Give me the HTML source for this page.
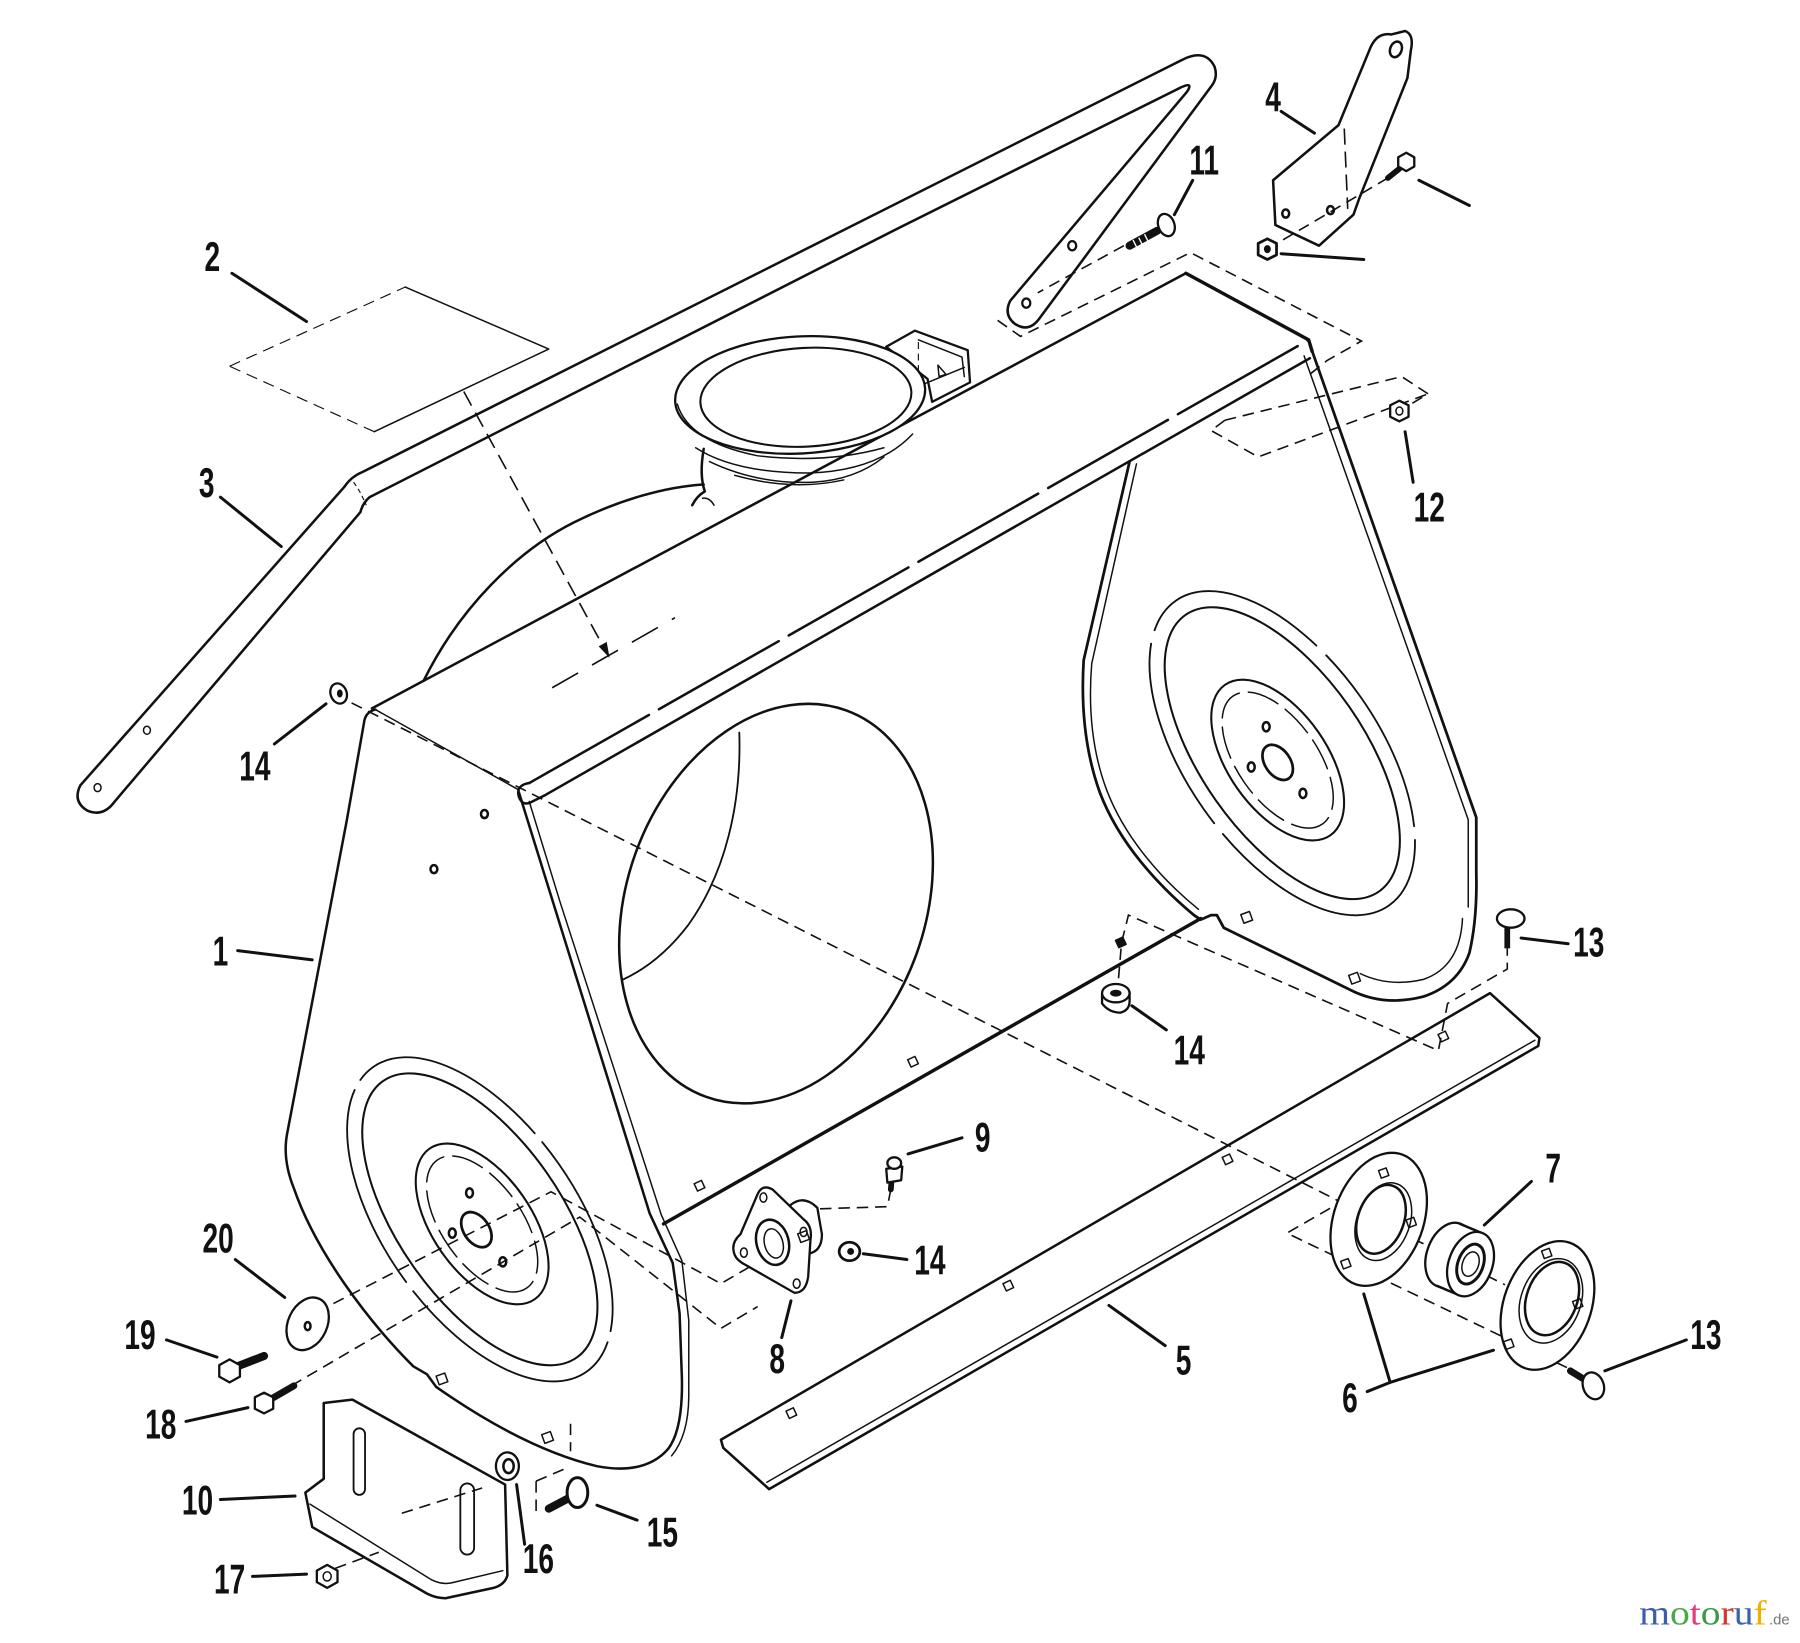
<!DOCTYPE html>
<html>
<head>
<meta charset="utf-8">
<style>
html,body{margin:0;padding:0;background:#fff;}
svg{display:block;}
.l{fill:none;stroke:#111;stroke-width:2.2;stroke-linecap:round;stroke-linejoin:round;}
.t{fill:none;stroke:#111;stroke-width:1.3;stroke-linecap:round;stroke-linejoin:round;}
.k{fill:none;stroke:#111;stroke-width:3;stroke-linecap:round;stroke-linejoin:round;}
.d{fill:none;stroke:#111;stroke-width:1.4;stroke-dasharray:10 6;}
.w{fill:#fff;stroke:#111;stroke-width:2;stroke-linejoin:round;}
.ld{fill:none;stroke:#111;stroke-width:2.6;stroke-linecap:round;}
.lab{font-family:"Liberation Sans",sans-serif;font-weight:bold;font-size:36px;fill:#111;}
</style>
</head>
<body>
<svg width="1800" height="1643" viewBox="0 0 1568 1431" preserveAspectRatio="none" xmlns="http://www.w3.org/2000/svg">
<rect x="0" y="0" width="1568" height="1431" fill="#fff"/>

<!-- Decal 2 -->
<path class="d" d="M200,319 L353,250" style="stroke-width:1"/>
<path class="t" d="M353,250 L478,304 L326,376"/>
<path class="d" d="M326,376 L200,319" style="stroke-width:1"/>
<path class="d" d="M404,341 L526,564" style="stroke-dasharray:14 7"/>
<polygon points="531,573 521.5,563 528.5,559" fill="#111"/>
<path class="d" d="M481,599 L588,538" style="stroke-dasharray:26 14"/>

<!-- Handle 3 -->
<path class="l" d="M70,684 L300,424 Q306,415 316,411 L1030,52 Q1050,42 1058,58 Q1061,67 1056,74 L905,278 Q896,290 884,282 Q874,274 880,262 L1034,80 Q1040,71 1029,76 L784,198 L322,433 Q316,438 314,446 L100,698 Q90,712 76,706 Q63,698 70,684 Z"/>
<path class="d" d="M308,420 Q314,428 319,440" style="stroke-dasharray:4 3;stroke-width:1"/>
<ellipse cx="85" cy="686" rx="3" ry="3.5" class="t"/>
<ellipse cx="128" cy="636" rx="3" ry="3.5" class="t"/>
<ellipse cx="934" cy="214" rx="3.5" ry="4" class="t" style="stroke-width:2"/>
<ellipse cx="894" cy="264" rx="3.5" ry="4" class="t" style="stroke-width:2"/>

<!-- Back shroud arc & back edge of top -->
<path class="l" d="M369,593 C400,530 450,480 500,455 C540,435 580,424 613,422"/>
<path class="l" d="M324,617 L1033,238"/>

<!-- Chute box -->
<path class="w" d="M772,302 L797,288 L843,305 L845,333 L812,350 L808,330 Z"/>
<path class="t" d="M800,296 L838,311 L840,328"/>
<path class="d" d="M800,298 L800,332" style="stroke-width:1;stroke-dasharray:6 4"/>
<path class="t" d="M806,334 L840,320"/>
<path class="t" d="M817,318 L818,328 L824,326 Z"/>

<!-- Chute neck -->
<path class="l" d="M613,391 Q609,414 614,428 Q607,432 603,440"/>
<path class="t" d="M612,434 Q618,433 622,440"/>
<path class="t" d="M606,390 Q640,412 705,412 Q765,410 795,378"/>
<path class="t" d="M618,402 Q660,422 708,420 Q745,418 770,398"/>
<path class="t" d="M640,414 Q690,428 735,418"/>
<!-- Chute ring -->
<ellipse cx="697" cy="344" rx="109" ry="51" transform="rotate(-3 697 344)" class="w"/>
<ellipse cx="702" cy="346" rx="92" ry="43" transform="rotate(-3 702 346)" class="l" style="stroke-width:1.8"/>
<path class="t" d="M590,352 Q600,385 660,397 Q720,404 770,390"/>

<!-- Top panel front edges -->
<path class="l" d="M461,682 L1140,296" style="stroke-dasharray:120 10"/>
<path class="l" d="M474,693 L1141,312"/>
<path class="k" d="M1033,238 L1140,296 L1143,306"/>
<path class="l" d="M474,693 L462,699 Q455,702 452,694 Q449,684 461,682"/>

<!-- Left side panel -->
<path class="l" d="M327,618 Q318,620 317,630 L302,715 L250,988 Q246,1010 256,1035 C275,1090 320,1150 360,1190 L372,1197 L380,1208 C420,1236 470,1265 520,1277 Q562,1285 582,1262 Q595,1245 594,1200 L592,1144 L586,1100 L566,1057 L452,690"/>
<path class="t" d="M327,618 L452,688"/>
<path class="t" d="M461,698 L488,786 L576,1058 L594,1098 L600,1150 L600,1215 Q600,1250 585,1268"/>
<ellipse cx="422" cy="709" rx="3" ry="3.5" class="l"/>
<ellipse cx="378" cy="757" rx="3" ry="3.5" class="l"/>
<rect x="381" y="1197" width="8" height="8" class="t" transform="rotate(-20 385 1201)"/>
<rect x="473" y="1248" width="8" height="8" class="t" transform="rotate(-20 477 1252)"/>

<!-- Left disc -->
<ellipse cx="418" cy="1062" rx="162" ry="84" transform="rotate(55 418 1062)" class="t" style="stroke-width:1.6;stroke-dasharray:180 10"/>
<ellipse cx="418" cy="1062" rx="147" ry="71" transform="rotate(55 418 1062)" class="l" style="stroke-width:1.8"/>
<ellipse cx="420" cy="1066" rx="80" ry="43" transform="rotate(55 420 1066)" class="l" style="stroke-width:1.8"/>
<ellipse cx="420" cy="1066" rx="68" ry="35" transform="rotate(55 420 1066)" class="t" style="stroke-dasharray:28 8"/>
<ellipse cx="415" cy="1071" rx="17" ry="11" transform="rotate(55 415 1071)" class="l" style="stroke-width:2.4"/>
<ellipse cx="409" cy="1039" rx="3" ry="4" class="l"/>
<ellipse cx="394" cy="1074" rx="3" ry="4" class="l"/>
<ellipse cx="438" cy="1099" rx="3" ry="4" class="l"/>

<!-- Big hole -->
<ellipse cx="676" cy="787" rx="179" ry="130" transform="rotate(-70 676 787)" class="l"/>
<path class="l" d="M644,638 C646,700 632,760 600,805 Q575,838 543,853" style="stroke-width:1.6"/>

<!-- Front bottom edge -->
<path class="k" d="M578,1066 L1046,800"/>
<rect x="606" y="1029" width="7" height="7" class="t" transform="rotate(-25 610 1033)"/>
<rect x="792" y="921" width="7" height="7" class="t" transform="rotate(-25 796 925)"/>
<rect x="973" y="817" width="7" height="7" class="t" transform="rotate(-25 977 821)" style="fill:#111"/>

<!-- Right side panel -->
<path class="k" d="M984,402 L944,575 Q940,640 958,690 C975,735 1010,772 1040,797 L1046,801 L1055,797 L1060,797 L1066,808 L1176,862 Q1205,877 1240,868 Q1270,858 1280,830 Q1287,800 1286,760 L1286,712 L1141,300" style="stroke-width:2.4"/>
<path class="t" d="M990,404 L951,578 Q946,640 964,688 C980,730 1012,766 1044,792"/>
<path class="t" d="M1136,310 L1279,714 L1279,790"/>
<path class="t" d="M1274,800 Q1272,842 1240,853 Q1210,860 1185,848"/>
<rect x="1082" y="795" width="8" height="8" class="t" transform="rotate(-20 1086 799)"/>
<rect x="1176" y="848" width="8" height="8" class="t" transform="rotate(-20 1180 852)"/>

<!-- Right disc -->
<ellipse cx="1117" cy="656" rx="162" ry="84" transform="rotate(55 1117 656)" class="t" style="stroke-width:1.6;stroke-dasharray:170 12"/>
<ellipse cx="1117" cy="656" rx="147" ry="71" transform="rotate(55 1117 656)" class="l" style="stroke-width:1.8"/>
<ellipse cx="1113" cy="662" rx="80" ry="43" transform="rotate(55 1113 662)" class="l" style="stroke-width:1.8"/>
<ellipse cx="1113" cy="662" rx="68" ry="35" transform="rotate(55 1113 662)" class="t" style="stroke-dasharray:28 8"/>
<ellipse cx="1113" cy="664" rx="17" ry="11" transform="rotate(55 1113 664)" class="l" style="stroke-width:2.4"/>
<ellipse cx="1103" cy="633" rx="3" ry="4" class="l"/>
<ellipse cx="1090" cy="668" rx="3" ry="4" class="l"/>
<ellipse cx="1135" cy="691" rx="3" ry="4" class="l"/>

<!-- Blade 5 -->
<path class="l" d="M628,1254 L1298,865 L1341,904 L1340,911 L670,1297 L630,1261 Z"/>
<path class="t" d="M668,1291 L1337,906"/>
<rect x="686" y="1227" width="7" height="7" class="t" transform="rotate(-25 690 1231)"/>
<rect x="875" y="1116" width="7" height="7" class="t" transform="rotate(-25 879 1120)"/>
<rect x="1066" y="1006" width="7" height="7" class="t" transform="rotate(-25 1070 1010)"/>
<rect x="1254" y="899" width="7" height="7" class="t" transform="rotate(-25 1258 903)"/>

<!-- Long dashed lines -->
<path class="d" d="M292,605 L1168,1047 L1121,1074 L1371,1194"/>
<path class="d" d="M973,868 L977,821 L983,797 L1253,915 L1261,874 L1313,844 L1313,826"/>
<path class="d" d="M262,1150 L480,1038 L628,1118 L652,1104"/>
<path class="d" d="M240,1215 L505,1060 L628,1157 L660,1138"/>
<path class="d" d="M776,1036 L773,1051 L708,1053 L700,1062"/>
<path class="d" d="M1231,1079 L1248,1087 M1295,1111 L1311,1119"/>
<path class="d" d="M497,1240 L497,1264 M467,1290 L467,1322 M467,1290 L495,1278"/>
<path class="d" d="M292,1366 L330,1352 M350,1318 L420,1296"/>

<!-- Top right dashed -->
<path class="d" d="M869,279 L889,293 L1037,220 L1186,297 L1156,314 L1141,326"/>
<path class="d" d="M979,214 L904,255"/>
<path class="d" d="M1067,366 L1221,328 L1244,343 L1229,352"/>
<path class="d" d="M1067,366 L1055,375 L1096,398 L1244,343"/>
<path class="d" d="M1209,155 L1109,214"/>
<path class="d" d="M1171,112 L1174,182" style="stroke-dasharray:14 6"/>

<!-- Bracket 4 -->
<path class="l" d="M1194,41 Q1200,28 1212,30 L1224,27 Q1232,30 1229,44 L1226,68 L1184,173 L1179,187 L1149,214 L1111,196 L1109,157 L1166,109 Z"/>
<ellipse cx="1216" cy="43" rx="5" ry="7" class="l" transform="rotate(20 1216 43)"/>
<ellipse cx="1120" cy="186" rx="3" ry="3.5" class="l"/>
<ellipse cx="1159" cy="183" rx="3" ry="3.5" class="l"/>
<!-- bolt right of 4 -->
<path d="M1209,155 L1219,147" stroke="#111" stroke-width="5" stroke-linecap="round"/>
<polygon points="1225,133 1232,137 1232,145 1225,149 1218,145 1218,137" class="w"/>
<!-- nut by 4 -->
<polygon points="1104,208 1112,212 1112,222 1104,226 1096,222 1096,212" class="w" style="stroke-width:2.4"/>
<ellipse cx="1104" cy="217" rx="3" ry="3.5" fill="#111"/>

<!-- Bolt 11 -->
<path d="M984,214 L1008,201" stroke="#111" stroke-width="7" stroke-linecap="round"/>
<path d="M987,209 L991,217 M992,207 L996,215 M997,204 L1001,212" stroke="#fff" stroke-width="1.2"/>
<ellipse cx="1016" cy="196" rx="7" ry="10" class="w" transform="rotate(-20 1016 196)"/>
<!-- Nut 12 -->
<polygon points="1219,349 1227,353 1227,363 1219,367 1211,363 1211,353" class="w"/>
<ellipse cx="1219" cy="358" rx="3" ry="3.5" class="t"/>

<!-- Nut 14 left -->
<ellipse cx="295" cy="604" rx="7" ry="9" class="w" transform="rotate(-20 295 604)"/>
<ellipse cx="296" cy="604" rx="2.5" ry="3.5" fill="#111"/>

<!-- Bearing 8 -->
<path class="w" d="M688,1050 Q700,1040 712,1052 L716,1075 Q716,1090 704,1092 Z"/>
<path class="w" d="M640,1093 Q636,1083 645,1075 L660,1040 Q664,1031 673,1036 L700,1062 Q708,1068 706,1080 L704,1112 Q702,1126 692,1126 L650,1102 Q642,1098 640,1093 Z"/>
<ellipse cx="648" cy="1091" rx="3" ry="4" class="t"/>
<ellipse cx="665" cy="1043" rx="3" ry="4" class="t"/>
<ellipse cx="700" cy="1073" rx="3" ry="4" class="t"/>
<ellipse cx="694" cy="1118" rx="3" ry="4" class="t"/>
<ellipse cx="673" cy="1082" rx="14" ry="20" class="l" transform="rotate(-15 673 1082)"/>
<ellipse cx="674" cy="1083" rx="8" ry="13" class="t" transform="rotate(-15 674 1083)"/>
<rect x="696" y="1073" width="8" height="8" class="t" transform="rotate(-20 700 1077)"/>
<!-- Grease fitting 9 -->
<path d="M776,1036 L777,1024" stroke="#111" stroke-width="5" stroke-linecap="round"/>
<path class="w" d="M772,1018 L786,1016 L785,1028 L773,1030 Z"/>
<ellipse cx="779" cy="1013" rx="6" ry="5" class="w"/>
<!-- Nut 14 by 8 -->
<ellipse cx="740" cy="1090" rx="9" ry="8" class="w" style="stroke-width:2.4"/>
<ellipse cx="741" cy="1090" rx="3" ry="3" fill="#111"/>

<!-- Nut 14 middle -->
<path class="w" d="M960,866 L960,874 Q966,882 976,882 Q984,880 984,872 L984,864 Z"/>
<ellipse cx="972" cy="865" rx="12" ry="8" class="w"/>
<ellipse cx="972" cy="865" rx="5" ry="3" fill="#111"/>

<!-- Bolt 13 upper -->
<path d="M1313,808 L1313,826" stroke="#111" stroke-width="5"/>
<ellipse cx="1316" cy="800" rx="12" ry="8" class="w"/>

<!-- Flange 6a -->
<ellipse cx="1201" cy="1062" rx="60" ry="39" transform="rotate(-70 1201 1062)" class="w"/>
<ellipse cx="1205" cy="1064" rx="35" ry="23" transform="rotate(-70 1205 1064)" class="t"/>
<ellipse cx="1203" cy="1062" rx="31" ry="20" transform="rotate(-70 1203 1062)" class="l"/>
<rect x="1202" y="1018" width="7" height="7" class="t" transform="rotate(-20 1206 1022)"/>
<rect x="1226" y="1061" width="7" height="7" class="t" transform="rotate(-20 1230 1065)"/>
<rect x="1169" y="1097" width="7" height="7" class="t" transform="rotate(-20 1173 1101)"/>
<!-- Bearing 7 -->
<ellipse cx="1262" cy="1093" rx="29" ry="19" transform="rotate(-70 1262 1093)" class="w"/>
<polygon points="1272,1066 1291,1074 1271,1128 1252,1120" fill="#fff"/>
<path class="l" d="M1272,1066 L1291,1074 M1252,1120 L1271,1128"/>
<ellipse cx="1281" cy="1101" rx="29" ry="19" transform="rotate(-70 1281 1101)" class="w"/>
<ellipse cx="1281" cy="1101" rx="18" ry="11" transform="rotate(-70 1281 1101)" class="l" style="stroke-width:2.6"/>
<ellipse cx="1281" cy="1101" rx="11" ry="7" transform="rotate(-70 1281 1101)" class="t"/>
<!-- Flange 6b -->
<ellipse cx="1348" cy="1137" rx="58" ry="38" transform="rotate(-70 1348 1137)" class="w"/>
<ellipse cx="1351" cy="1133" rx="38" ry="26" transform="rotate(-70 1351 1133)" class="t"/>
<ellipse cx="1352" cy="1131" rx="33" ry="22" transform="rotate(-70 1352 1131)" class="l"/>
<rect x="1344" y="1088" width="7" height="7" class="t" transform="rotate(-20 1348 1092)"/>
<rect x="1371" y="1132" width="7" height="7" class="t" transform="rotate(-20 1375 1136)"/>
<rect x="1311" y="1167" width="7" height="7" class="t" transform="rotate(-20 1315 1171)"/>
<!-- Bolt 13 lower -->
<path d="M1368,1194 L1381,1202" stroke="#111" stroke-width="6" stroke-linecap="round"/>
<ellipse cx="1388" cy="1207" rx="9" ry="12" class="w" transform="rotate(-20 1388 1207)"/>

<!-- Left bottom hardware -->
<ellipse cx="268" cy="1153" rx="17" ry="24" class="w" transform="rotate(25 268 1153)"/>
<ellipse cx="268" cy="1155" rx="2.5" ry="3.5" class="l"/>
<path d="M207,1190 L230,1181" stroke="#111" stroke-width="7" stroke-linecap="round"/>
<polygon points="200,1184 209,1189 209,1199 200,1204 191,1199 191,1189" class="w"/>
<path d="M237,1218 L256,1207" stroke="#111" stroke-width="6" stroke-linecap="round"/>
<polygon points="230,1213 238,1217 238,1227 230,1231 222,1227 222,1217" class="w"/>
<!-- Skid shoe 10 -->
<path class="l" d="M282,1222 L307,1219 L440,1293 L442,1372 Q440,1380 430,1383 L388,1392 Q380,1392 372,1388 L272,1330 L266,1300 L282,1288 Z"/>
<path class="t" d="M270,1310 L376,1376 Q386,1381 396,1378 L438,1368"/>
<rect x="308" y="1244" width="10" height="58" rx="5" class="t" style="stroke-width:1.6"/>
<rect x="401" y="1292" width="12" height="62" rx="6" class="t" style="stroke-width:1.6"/>
<!-- Nut 17 -->
<polygon points="285,1363 294,1368 294,1378 285,1383 276,1378 276,1368" class="w"/>
<ellipse cx="285" cy="1373" rx="3.5" ry="4" class="t"/>
<!-- Washer 16 -->
<ellipse cx="442" cy="1277" rx="10" ry="12" class="w"/>
<ellipse cx="443" cy="1277" rx="4.5" ry="6" class="l"/>
<!-- Bolt 15 -->
<path d="M478,1314 L497,1304" stroke="#111" stroke-width="7" stroke-linecap="round"/>
<ellipse cx="503" cy="1300" rx="9" ry="13" class="w" style="stroke-width:2.6"/>

<!-- Leader lines -->
<path class="ld" d="M202,238 L267,280"/>
<path class="ld" d="M192,433 L245,476"/>
<path class="ld" d="M239,648 L284,613"/>
<path class="ld" d="M1116,97 L1145,116"/>
<path class="ld" d="M1236,157 L1280,179"/>
<path class="ld" d="M1116,221 L1188,226"/>
<path class="ld" d="M1039,157 L1023,187"/>
<path class="ld" d="M1224,376 L1231,420"/>
<path class="ld" d="M207,828 L272,836"/>
<path class="ld" d="M205,1097 L248,1130"/>
<path class="ld" d="M145,1167 L189,1182"/>
<path class="ld" d="M162,1238 L216,1226"/>
<path class="ld" d="M192,1306 L257,1303"/>
<path class="ld" d="M220,1373 L267,1371"/>
<path class="ld" d="M450,1293 L457,1345"/>
<path class="ld" d="M520,1311 L555,1324"/>
<path class="ld" d="M689,1133 L681,1165"/>
<path class="ld" d="M791,1005 L838,991"/>
<path class="ld" d="M752,1092 L790,1097"/>
<path class="ld" d="M966,1137 L1015,1172"/>
<path class="ld" d="M1188,1127 L1211,1204 L1301,1176 M1191,1212 L1211,1204"/>
<path class="ld" d="M1334,1029 L1293,1067"/>
<path class="ld" d="M1469,1167 L1398,1194"/>
<path class="ld" d="M1366,822 L1325,817"/>
<path class="ld" d="M1016,897 L986,876"/>

<!-- Labels -->
<g class="lab" text-anchor="middle">
<text transform="translate(185,236) scale(0.68,1)">2</text>
<text transform="translate(180,433) scale(0.68,1)">3</text>
<text transform="translate(222,680) scale(0.68,1)">14</text>
<text transform="translate(1109,97) scale(0.68,1)">4</text>
<text transform="translate(1049,152) scale(0.68,1)">11</text>
<text transform="translate(1245,454) scale(0.68,1)">12</text>
<text transform="translate(192,841) scale(0.68,1)">1</text>
<text transform="translate(190,1091) scale(0.68,1)">20</text>
<text transform="translate(122,1175) scale(0.68,1)">19</text>
<text transform="translate(140,1253) scale(0.68,1)">18</text>
<text transform="translate(172,1319) scale(0.68,1)">10</text>
<text transform="translate(200,1388) scale(0.68,1)">17</text>
<text transform="translate(469,1370) scale(0.68,1)">16</text>
<text transform="translate(577,1347) scale(0.68,1)">15</text>
<text transform="translate(677,1196) scale(0.68,1)">8</text>
<text transform="translate(856,1003) scale(0.68,1)">9</text>
<text transform="translate(810,1110) scale(0.68,1)">14</text>
<text transform="translate(1036,927) scale(0.68,1)">14</text>
<text transform="translate(1384,833) scale(0.68,1)">13</text>
<text transform="translate(1031,1197) scale(0.68,1)">5</text>
<text transform="translate(1176,1230) scale(0.68,1)">6</text>
<text transform="translate(1353,1030) scale(0.68,1)">7</text>
<text transform="translate(1486,1175) scale(0.68,1)">13</text>
</g>

<!-- Watermark -->
<text x="1428" y="1415" font-family="'Liberation Serif',serif" font-size="30" textLength="111" lengthAdjust="spacingAndGlyphs"><tspan fill="#3d5ea8">m</tspan><tspan fill="#4aa84a">o</tspan><tspan fill="#e0407a">t</tspan><tspan fill="#3a9a48">o</tspan><tspan fill="#d03a2a">r</tspan><tspan fill="#3a62b0">u</tspan><tspan fill="#f0b000">f</tspan></text>
<text x="1541" y="1415" font-family="'Liberation Sans',sans-serif" font-size="13" fill="#777">.de</text>
</svg>
</body>
</html>
